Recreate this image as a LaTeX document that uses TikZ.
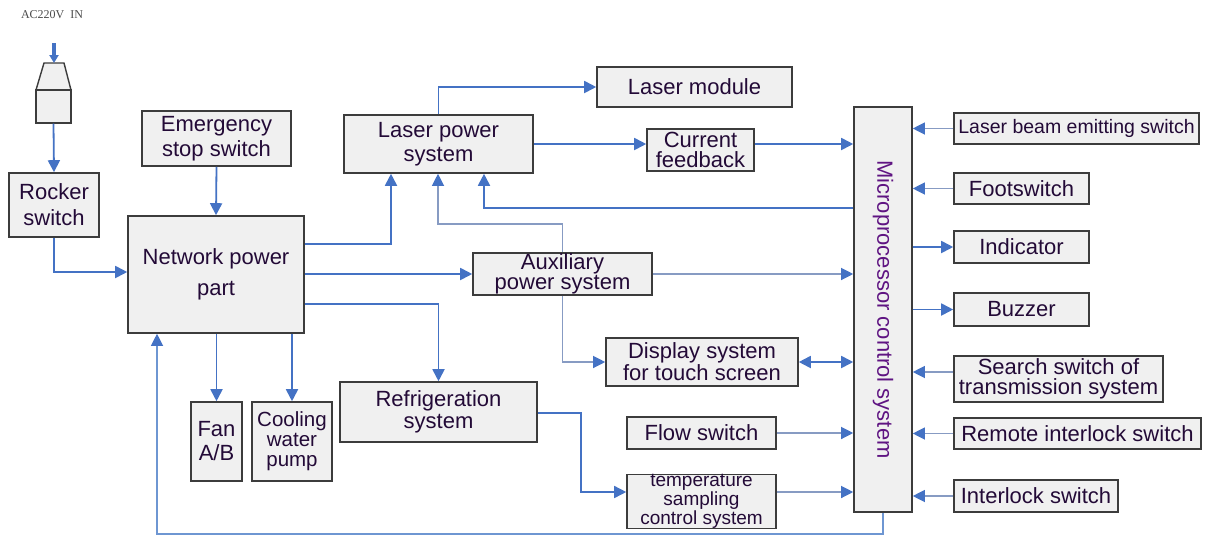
\documentclass[tikz,border=0pt]{standalone}
\usepackage{fontspec}
\setmainfont{Liberation Sans}
\newfontfamily\acfont{Liberation Serif}
\usetikzlibrary{arrows.meta,calc}
\definecolor{boxfill}{RGB}{240,240,240}
\definecolor{boxdraw}{RGB}{60,60,60}
\definecolor{lblue}{RGB}{68,114,196}
\definecolor{lgray}{RGB}{135,155,195}
\definecolor{txt}{RGB}{35,10,55}
\definecolor{mtxt}{RGB}{95,20,130}
\begin{document}
\begin{tikzpicture}[x=1pt,y=-1pt,
  box/.style={draw=boxdraw, fill=boxfill, line width=1.6pt, inner sep=0pt, text=txt, align=center,
    font=\fontsize{22}{24}\selectfont},
  arr/.style={draw=lblue, line width=1.8pt, -{Triangle[length=12pt,width=12pt]}},
  larr/.style={draw=lgray, line width=1.2pt, -{Triangle[length=12pt,width=12pt,color=lblue]}},
  darr/.style={draw=lblue, line width=1.8pt, {Triangle[length=12pt,width=12pt]}-{Triangle[length=12pt,width=12pt]}},
]
\useasboundingbox[fill=white] (0,0) rectangle (1205,536);

% AC input and plug
\node[font=\acfont\fontsize{12}{12}\selectfont, text=black!70, inner sep=0pt] (ac) at (52,15) {AC220V\ \ IN};
\coordinate (wtop) at (54,43);
\coordinate (ptop) at (54,63);
\draw[draw=boxdraw, fill=boxfill, line width=1.4pt] (44,63) -- (64,63) -- (71,90) -- (36,90) -- cycle;
\node[draw=boxdraw, fill=boxfill, line width=1.4pt, minimum width=35pt, minimum height=33pt, inner sep=0pt] (plug) at (53.5,106.5) {};
\draw[lblue, line width=3.5pt, -{Triangle[length=8pt,width=9pt]}] (wtop) -- (ptop);

% boxes
\node[box, minimum width=90pt, minimum height=64pt, font=\fontsize{22}{26}\selectfont] (rocker) at (54,205) {Rocker\\switch};
\node[box, minimum width=149pt, minimum height=55pt, font=\fontsize{22}{25}\selectfont] (emerg) at (216.5,138.5) {Emergency\\stop switch};
\node[box, minimum width=176pt, minimum height=117pt, font=\fontsize{22}{31}\selectfont] (network) at (216,274.5) {Network power\\part};
\node[box, minimum width=189pt, minimum height=58pt] (laserpower) at (438.5,144) {Laser power\\system};
\node[box, minimum width=195pt, minimum height=40pt] (lasermodule) at (694.5,87) {Laser module};
\node[box, minimum width=107pt, minimum height=42pt, font=\fontsize{22}{20}\selectfont] (current) at (700.5,150) {Current\\feedback};
\node[box, minimum width=58pt, minimum height=405pt, text=mtxt] (micro) at (883,309.5) {\rotatebox{-90}{Microprocessor control system}};
\node[box, minimum width=179pt, minimum height=42pt, font=\fontsize{22}{20}\selectfont] (aux) at (562.5,274) {Auxiliary\\power system};
\node[box, minimum width=192pt, minimum height=48pt, font=\fontsize{22}{22}\selectfont] (display) at (702,362) {Display system\\for touch screen};
\node[box, minimum width=197pt, minimum height=60pt, font=\fontsize{22}{22}\selectfont] (refrig) at (438.5,412) {Refrigeration\\system};
\node[box, minimum width=51pt, minimum height=79pt] (fan) at (216.5,441.5) {Fan\\A/B};
\node[box, minimum width=80pt, minimum height=79pt, font=\fontsize{20.5}{20}\selectfont] (pump) at (292,441.5) {Cooling\\water\\pump};
\node[box, minimum width=149pt, minimum height=32pt] (flow) at (701.5,433) {Flow switch};
\node[box, minimum width=149pt, minimum height=51pt, font=\fontsize{19}{15.5}\selectfont] (temp) at (701.5,501.5) {temperature\\sampling\\control system};

\node[box, minimum width=245pt, minimum height=31pt, font=\fontsize{19.5}{22}\selectfont] (beam) at (1076.5,128.5) {Laser beam emitting switch};
\node[box, minimum width=135pt, minimum height=31pt] (foot) at (1021.5,188.5) {Footswitch};
\node[box, minimum width=135pt, minimum height=32pt] (indicator) at (1021.5,247) {Indicator};
\node[box, minimum width=135pt, minimum height=33pt] (buzzer) at (1021.5,309.5) {Buzzer};
\node[box, minimum width=209pt, minimum height=46pt, font=\fontsize{22}{20}\selectfont] (search) at (1058.5,379) {Search switch of\\transmission system};
\node[box, minimum width=247pt, minimum height=31pt] (remote) at (1077.5,433.5) {Remote interlock switch};
\node[box, minimum width=164pt, minimum height=32pt] (interlock) at (1036,496) {Interlock switch};

% connectors
\draw[arr] (plug.south) -- (rocker.north);
\draw[arr] (rocker.south) |- (network.west |- 0,272);
\draw[arr] (emerg.south) -- (network.north);
\draw[arr] (network.east |- 0,244) -| (laserpower.south -| 391,0);
\draw[arr] (laserpower.north) |- (lasermodule.west);
\draw[arr] (laserpower.east |- 0,144) -- (current.west |- 0,144);
\draw[arr] (current.east |- 0,144) -- (micro.west |- 0,144);
\draw[arr] (micro.west |- 0,208) -| (laserpower.south -| 484,0);
\coordinate (j1) at (438,224);
\draw[larr] (aux.north) |- (j1) -- (j1 |- laserpower.south);
\draw[arr] (network.east |- aux.west) -- (aux.west);
\draw[larr] (aux.east) -- (micro.west |- aux.east);
\draw[larr] (aux.south) |- (display.west);
\draw[darr] (display.east) -- (micro.west |- display.east);
\draw[arr] (network.east |- 0,304) -| (refrig.north);
\draw[arr] (network.south -| fan.north) -- (fan.north);
\draw[arr] (network.south -| pump.north) -- (pump.north);
\coordinate (j2) at (581,413);
\draw[draw=lblue, line width=1.5pt, -{Triangle[length=12pt,width=12pt]}] (refrig.east |- j2) -- (j2) |- (temp.west |- 0,492);
\draw[larr] (flow.east) -- (micro.west |- flow.east);
\draw[larr] (temp.east |- 0,492) -- (micro.west |- 0,492);
\coordinate (j3) at (157,534);
\draw[larr, draw={rgb,255:red,110;green,150;blue,210}] (micro.south) |- (j3) -- (j3 |- network.south);

\draw[larr] (beam.west) -- (micro.east |- beam.west);
\draw[larr] (foot.west) -- (micro.east |- foot.west);
\draw[arr] (micro.east |- indicator.west) -- (indicator.west);
\draw[arr] (micro.east |- buzzer.west) -- (buzzer.west);
\draw[larr] (search.west |- 0,372) -- (micro.east |- 0,372);
\draw[larr] (remote.west) -- (micro.east |- remote.west);
\draw[larr] (interlock.west) -- (micro.east |- interlock.west);
\end{tikzpicture}
\end{document}
